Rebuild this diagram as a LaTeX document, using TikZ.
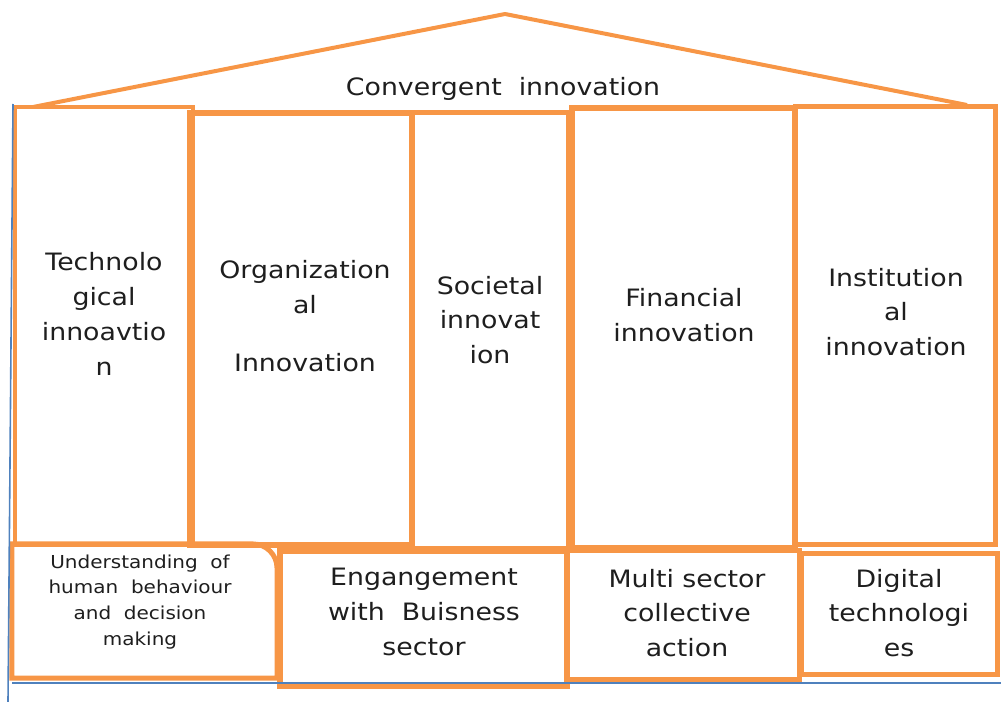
\documentclass[tikz,border=0pt]{standalone}
\usepackage{fontspec}
\setmainfont{DejaVu Sans}[FakeStretch=1.12]
\usepackage{xcolor}
\definecolor{pillarorange}{HTML}{F79646}
\definecolor{frameblue}{HTML}{4F81BD}
\definecolor{textgrey}{HTML}{1E1E1E}

\begin{document}
\begin{tikzpicture}[x=0.025cm,y=-0.025cm,outer sep=0pt]
    \tikzstyle{pillar} = [rectangle, draw=pillarorange, inner sep=0pt]
    \tikzstyle{txt} = [align=center, text=textgrey, inner sep=0pt, font=\fontsize{17}{24.8}\selectfont]
    \tikzstyle{smalltxt} = [align=center, text=textgrey, inner sep=0pt, font=\fontsize{12.7}{18.4}\selectfont]
    \useasboundingbox (0,0) rectangle (1001,702);
    % roof
    \coordinate (eaveL) at (33,107);
    \coordinate (apex) at (505,14);
    \coordinate (eaveR) at (967,105);
    \draw[pillarorange, line width=0.1cm, line join=round] (eaveL) -- (apex) -- (eaveR);
    \node[txt] (conv) at (503,89) {Convergent \ innovation};
    % pillars
    \node[pillar, line width=0.1cm, minimum width=4.45cm, minimum height=10.95cm] (tech) at (104,326) {};
    \node[pillar, line width=0.15cm, minimum width=5.55cm, minimum height=10.8cm] (org) at (301,329) {};
    \node[pillar, line width=0.125cm, minimum width=3.9cm, minimum height=10.875cm] (soc) at (490,330.5) {};
    \node[pillar, line width=0.15cm, minimum width=5.575cm, minimum height=11cm] (fin) at (683.5,328) {};
    \node[pillar, line width=0.125cm, minimum width=4.975cm, minimum height=10.925cm] (inst) at (895.5,325.5) {};
    \node[txt] (techtxt) at (104,314) {Technolo\\gical\\innoavtio\\n};
    \node[txt] (orgtxt) at (305,316) {Organization\\al\\[0.575cm]Innovation};
    \node[txt] (soctxt) at (490,320) {Societal\\innovat\\ion};
    \node[txt] (fintxt) at (684,315) {Financial\\innovation};
    \node[txt] (insttxt) at (896,312) {Institution\\al\\innovation};
    % base
    \node[minimum width=6.625cm, minimum height=3.35cm, inner sep=0pt] (under) at (144.5,611) {};
    \draw[pillarorange, line width=0.125cm] (under.south west) -- (under.north west)
        -- ([xshift=-0.6cm]under.north east) arc[start angle=90, end angle=0, radius=0.6cm]
        -- (under.south east) -- cycle;
    \node[smalltxt] (undertxt) at (140,602) {Understanding \ of\\human \ behaviour\\and \ decision\\making};
    \node[pillar, line width=0.15cm, minimum width=7.175cm, minimum height=3.375cm] (eng) at (423.5,618.5) {};
    \node[pillar, line width=0.125cm, minimum width=5.8cm, minimum height=3.2cm] (multi) at (683,615) {};
    \node[pillar, line width=0.125cm, minimum width=4.875cm, minimum height=3cm] (dig) at (899.5,614) {};
    \node[txt] (engtxt) at (424,612) {Engangement\\with \ Buisness\\sector};
    \node[txt] (multitxt) at (687,613) {Multi sector\\collective\\action};
    \node[txt] (digtxt) at (899,613) {Digital\\technologi\\es};
    % blue frame
    \coordinate (wallT) at (13,104);
    \coordinate (wallB) at (8,702);
    \coordinate (baseL) at (12,683);
    \coordinate (baseR) at (1001,683);
    \draw[frameblue, line width=0.04cm] (wallT) -- (wallB);
    \draw[frameblue, line width=0.04cm] (baseL) -- (baseR);
\end{tikzpicture}
\end{document}
